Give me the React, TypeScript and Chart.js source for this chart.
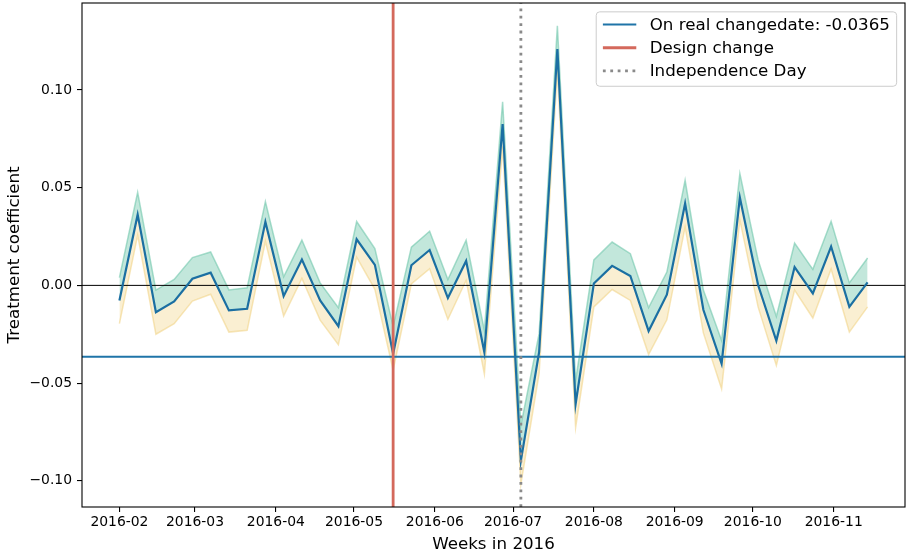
import React, { useEffect, useRef } from "react";
import { Chart, registerables } from "chart.js";

Chart.register(...registerables);

// ---------------- data ----------------
const FIRST_WEEK = "2016-02-01";

const estimates = [
  -0.0077, 0.0362, -0.0137, -0.0082, 0.0034, 0.0065, -0.0128, -0.012, 0.0325, -0.0055,
  0.0132, -0.0077, -0.0209, 0.0236, 0.0105, -0.035, 0.0103, 0.0181, -0.0065, 0.0125,
  -0.0342, 0.0826, -0.0897, -0.0342, 0.1209, -0.0607, 0.001, 0.01, 0.0048, -0.0234,
  -0.0048, 0.0419, -0.0125, -0.0401, 0.045, 0.0002, -0.0284, 0.0094, -0.0041, 0.0199,
  -0.011, 0.0015,
];

const upperBound = [
  0.004, 0.0476, -0.0024, 0.003, 0.0142, 0.0171, -0.0023, -0.0012, 0.0429, 0.0044,
  0.0232, 0.0013, -0.0114, 0.0327, 0.0188, -0.021, 0.0196, 0.0277, 0.003, 0.0231,
  -0.023, 0.094, -0.0717, -0.0247, 0.1328, -0.0487, 0.013, 0.0222, 0.0162, -0.0114,
  0.0068, 0.0538, -0.0024, -0.0282, 0.0573, 0.013, -0.0159, 0.0217, 0.0082, 0.0328,
  0.0013, 0.014,
];

const lowerBound = [
  -0.0196, 0.0257, -0.025, -0.0196, -0.008, -0.0045, -0.0239, -0.023, 0.0226, -0.0157,
  0.0036, -0.0178, -0.0304, 0.0145, -0.002, -0.0434, 0.0008, 0.0085, -0.0174, 0.0026,
  -0.0453, 0.071, -0.1017, -0.045, 0.11, -0.0727, -0.011, -0.0021, -0.0077, -0.0354,
  -0.0176, 0.0299, -0.0243, -0.053, 0.0335, -0.011, -0.041, -0.0024, -0.0167, 0.0084,
  -0.0239, -0.011,
];

const monthTickLabels = [
  "2016-02", "2016-03", "2016-04", "2016-05", "2016-06",
  "2016-07", "2016-08", "2016-09", "2016-10", "2016-11",
];

const yTickValues = [-0.1, -0.05, 0, 0.05, 0.1];

const realChangeEstimate = -0.0365;
const designChangeDate = "2016-05-16";
const independenceDay = "2016-07-04";

const xAxisTitle = "Weeks in 2016";
const yAxisTitle = "Treatment coefficient";
const legendLabels = [
  `On real changedate: ${realChangeEstimate}`,
  "Design change",
  "Independence Day",
];

// ---------------- helpers ----------------
const DAY = 86400000;
const dayNum = (s: string) =>
  (Date.parse(s + "T00:00:00Z") - Date.parse("2016-01-01T00:00:00Z")) / DAY;

const weekX = estimates.map((_, i) => dayNum(FIRST_WEEK) + 7 * i);

const xSpan = weekX[weekX.length - 1] - weekX[0];
const xMin = weekX[0] - 0.05 * xSpan;
const xMax = weekX[weekX.length - 1] + 0.05 * xSpan;
const dataMin = Math.min(...lowerBound);
const dataMax = Math.max(...upperBound);
const ySpan = dataMax - dataMin;
const yMin = dataMin - 0.05 * ySpan;
const yMax = dataMax + 0.05 * ySpan;

const fmtY = (v: number) => v.toFixed(2).replace("-", "\u2212");

const COLORS = {
  line: "#1b6fa2",
  hline: "#1f74a8",
  red: "#d4695c",
  gray: "#8a8a8a",
  greenFill: "rgba(102,194,165,0.40)",
  greenEdge: "rgba(102,194,165,0.55)",
  yellowFill: "rgba(240,210,130,0.36)",
  yellowEdge: "rgba(240,210,130,0.55)",
};

const FONT = "'DejaVu Sans', sans-serif";
const TICK_SIZE = 13.9;
const LABEL_SIZE = 16.7;

const framePlugin = {
  id: "frameAndLegend",
  afterDraw(chart: any) {
    const { ctx, chartArea: a } = chart;
    ctx.save();
    ctx.strokeStyle = "#000";
    ctx.lineWidth = 1.1;
    ctx.strokeRect(a.left, a.top, a.right - a.left, a.bottom - a.top);

    // legend (matplotlib-like, upper right)
    ctx.font = `${LABEL_SIZE}px ${FONT}`;
    const textW = Math.max(...legendLabels.map((t) => ctx.measureText(t).width));
    const pad = 0.4 * LABEL_SIZE;
    const handleLen = 2 * LABEL_SIZE;
    const handlePad = 0.8 * LABEL_SIZE;
    const boxW = pad + handleLen + handlePad + textW + pad;
    const boxH = 74.4;
    const right = a.right - 0.5 * LABEL_SIZE;
    const top = a.top + 0.5 * LABEL_SIZE + 0.5;
    const left = right - boxW;
    const r = 3.5;
    ctx.beginPath();
    ctx.moveTo(left + r, top);
    ctx.lineTo(right - r, top);
    ctx.quadraticCurveTo(right, top, right, top + r);
    ctx.lineTo(right, top + boxH - r);
    ctx.quadraticCurveTo(right, top + boxH, right - r, top + boxH);
    ctx.lineTo(left + r, top + boxH);
    ctx.quadraticCurveTo(left, top + boxH, left, top + boxH - r);
    ctx.lineTo(left, top + r);
    ctx.quadraticCurveTo(left, top, left + r, top);
    ctx.closePath();
    ctx.fillStyle = "rgba(255,255,255,0.8)";
    ctx.fill();
    ctx.strokeStyle = "#cccccc";
    ctx.lineWidth = 1;
    ctx.stroke();

    const styles = [
      { color: COLORS.hline, width: 2, dash: [] as number[] },
      { color: COLORS.red, width: 2.8, dash: [] as number[] },
      { color: COLORS.gray, width: 2.8, dash: [2.8, 4.6] },
    ];
    legendLabels.forEach((label, i) => {
      const cy = top + 12.7 + i * 23.2;
      const s = styles[i];
      ctx.beginPath();
      ctx.strokeStyle = s.color;
      ctx.lineWidth = s.width;
      ctx.setLineDash(s.dash);
      ctx.moveTo(left + pad, cy);
      ctx.lineTo(left + pad + handleLen, cy);
      ctx.stroke();
      ctx.setLineDash([]);
      ctx.fillStyle = "#000";
      ctx.textAlign = "left";
      ctx.textBaseline = "middle";
      ctx.fillText(label, left + pad + handleLen + handlePad, cy + 1);
    });
    ctx.restore();
  },
};

export default function App() {
  const ref = useRef<HTMLCanvasElement | null>(null);

  useEffect(() => {
    if (!ref.current) return;
    Chart.defaults.font.family = FONT;
    Chart.defaults.color = "#000";

    const pts = (ys: number[]) => ys.map((y, i) => ({ x: weekX[i], y }));
    const hLine = (y: number) => [
      { x: xMin, y },
      { x: xMax, y },
    ];
    const vLine = (d: string) => [
      { x: dayNum(d), y: yMin },
      { x: dayNum(d), y: yMax },
    ];

    const tickGrid = {
      display: true,
      drawOnChartArea: false,
      drawTicks: true,
      tickLength: 5,
      color: "#000",
      lineWidth: 1.1,
    };

    const chart = new Chart(ref.current, {
      type: "line",
      data: {
        datasets: [
          {
            label: "estimate",
            data: pts(estimates),
            borderColor: COLORS.line,
            borderWidth: 2.2,
            pointRadius: 0,
            fill: false,
            order: 3,
          },
          {
            label: "upper",
            data: pts(upperBound),
            borderColor: COLORS.greenEdge,
            backgroundColor: COLORS.greenFill,
            borderWidth: 1.5,
            pointRadius: 0,
            fill: 0,
            order: 6,
          },
          {
            label: "lower",
            data: pts(lowerBound),
            borderColor: COLORS.yellowEdge,
            backgroundColor: COLORS.yellowFill,
            borderWidth: 1.5,
            pointRadius: 0,
            fill: 0,
            order: 5,
          },
          {
            label: "zero",
            data: hLine(0),
            borderColor: "#000",
            borderWidth: 1,
            pointRadius: 0,
            fill: false,
            order: 4,
          },
          {
            label: legendLabels[0],
            data: hLine(realChangeEstimate),
            borderColor: COLORS.hline,
            borderWidth: 2,
            pointRadius: 0,
            fill: false,
            order: 2,
          },
          {
            label: legendLabels[1],
            data: vLine(designChangeDate),
            borderColor: COLORS.red,
            borderWidth: 2.8,
            pointRadius: 0,
            fill: false,
            order: 1,
          },
          {
            label: legendLabels[2],
            data: vLine(independenceDay),
            borderColor: COLORS.gray,
            borderWidth: 2.8,
            borderDash: [2.8, 4.6],
            pointRadius: 0,
            fill: false,
            order: 0,
          },
        ],
      },
      options: {
        animation: false,
        responsive: false,
        devicePixelRatio: 1,
        events: [],
        layout: { padding: { top: 3, right: 3, left: 0, bottom: 0 } },
        plugins: {
          legend: { display: false },
          tooltip: { enabled: false },
        },
        elements: { line: { tension: 0 } },
        scales: {
          x: {
            type: "linear",
            min: xMin,
            max: xMax,
            afterBuildTicks: (s: any) => {
              s.ticks = monthTickLabels.map((l) => ({ value: dayNum(l + "-01") }));
            },
            afterFit: (s: any) => {
              s.height = 50;
              s.paddingLeft = 0;
              s.paddingRight = 0;
            },
            ticks: {
              autoSkip: false,
              maxRotation: 0,
              padding: 2,
              font: { size: TICK_SIZE },
              color: "#000",
              callback: (_v: any, i: number) => monthTickLabels[i],
            },
            grid: tickGrid,
            border: { display: false },
            title: {
              display: true,
              text: xAxisTitle,
              font: { size: LABEL_SIZE },
              color: "#000",
              padding: { top: 0, bottom: 2 },
            },
          },
          y: {
            type: "linear",
            min: yMin,
            max: yMax,
            afterBuildTicks: (s: any) => {
              s.ticks = yTickValues.map((v) => ({ value: v }));
            },
            afterFit: (s: any) => {
              s.width = 82;
              s.paddingTop = 0;
              s.paddingBottom = 0;
            },
            ticks: {
              autoSkip: false,
              padding: 5,
              font: { size: TICK_SIZE },
              color: "#000",
              callback: (_v: any, i: number) => fmtY(yTickValues[i]),
            },
            grid: tickGrid,
            border: { display: false },
            title: {
              display: true,
              text: yAxisTitle,
              font: { size: LABEL_SIZE },
              color: "#000",
              padding: { top: 5, bottom: 0 },
            },
          },
        },
      },
      plugins: [framePlugin],
    } as any);

    return () => chart.destroy();
  }, []);

  return (
    <div style={{ position: "absolute", left: 0, top: 0, width: 908, height: 557, background: "#fff" }}>
      <canvas ref={ref} width={908} height={557} style={{ display: "block" }} />
    </div>
  );
}
